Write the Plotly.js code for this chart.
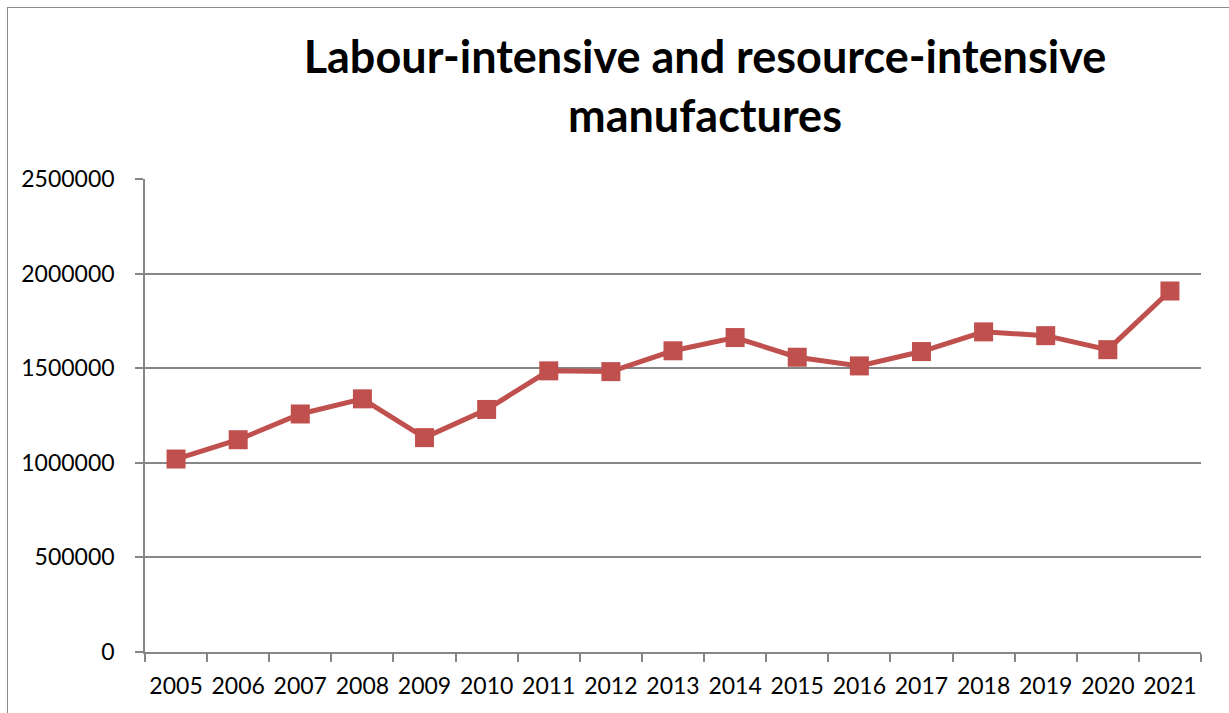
<!DOCTYPE html>
<html>
<head>
<meta charset="utf-8">
<script src="https://cdn.plot.ly/plotly-3.0.1.min.js"></script>
<style>
  html, body { margin: 0; padding: 0; background: #fff; }
  #wrap { position: relative; width: 1229px; height: 713px; overflow: hidden; }
  #chart { width: 1229px; height: 713px; }
  #frame { position: absolute; left: 7px; top: 7px; width: 1240px; height: 720px;
           border-left: 1.5px solid #8c8c8c; border-top: 1.5px solid #8c8c8c; pointer-events: none; }
</style>
</head>
<body>
<div id="wrap">
  <div id="chart"></div>
  <div id="frame"></div>
</div>
<script>
const years = ['2005','2006','2007','2008','2009','2010','2011','2012','2013','2014','2015','2016','2017','2018','2019','2020','2021'];
const values = [1020000, 1122000, 1258000, 1338000, 1133000, 1282000, 1486000, 1482000, 1592000, 1662000, 1558000, 1512000, 1588000, 1692000, 1672000, 1598000, 1908000];
const yTicks = [0, 500000, 1000000, 1500000, 2000000, 2500000];
const yTickLabels = ['0', '500000', '1000000', '1500000', '2000000', '2500000'];
const titleText = 'Labour-intensive and resource-intensive<br>manufactures';

const trace = {
  x: years,
  y: values,
  type: 'scatter',
  mode: 'lines+markers',
  line: { color: '#C0504D', width: 5 },
  marker: { symbol: 'square', size: 19, color: '#C0504D' },
  hoverinfo: 'x+y'
};

const layout = {
  width: 1229,
  height: 713,
  margin: { l: 145, r: 28, t: 179, b: 61 },
  paper_bgcolor: '#ffffff',
  plot_bgcolor: '#ffffff',
  showlegend: false,
  font: { family: 'Lato, "Open Sans", sans-serif', color: '#000000' },
  title: {
    text: titleText,
    font: { family: 'Lato, "Open Sans", sans-serif', size: 45, color: '#000000', weight: 'bold' },
    xref: 'container', yref: 'container',
    x: 0.5736, xanchor: 'center',
    y: 0.897, yanchor: 'middle'
  },
  xaxis: {
    type: 'category',
    range: [-0.5, years.length - 0.5],
    autorange: false,
    tickson: 'boundaries',
    tickangle: 0,
    ticks: 'outside',
    ticklen: 8,
    tickwidth: 1.5,
    tickcolor: '#868686',
    showline: true,
    linecolor: '#868686',
    linewidth: 1.5,
    showgrid: false,
    zeroline: false,
    tickfont: { family: 'Lato, sans-serif', size: 23, color: '#000000' },
    ticklabelstandoff: 13,
    fixedrange: true
  },
  yaxis: {
    range: [0, 2500000],
    autorange: false,
    tickmode: 'array',
    tickvals: yTicks,
    ticktext: yTickLabels,
    ticks: 'outside',
    ticklen: 8,
    tickwidth: 1.5,
    tickcolor: '#868686',
    showline: true,
    linecolor: '#868686',
    linewidth: 1.5,
    showgrid: true,
    gridcolor: '#868686',
    gridwidth: 1.5,
    zeroline: false,
    tickfont: { family: 'Lato, sans-serif', size: 23, color: '#000000' },
    ticklabelstandoff: 16,
    fixedrange: true
  }
};

Plotly.newPlot('chart', [trace], layout, { displayModeBar: false, staticPlot: false });
</script>
</body>
</html>
